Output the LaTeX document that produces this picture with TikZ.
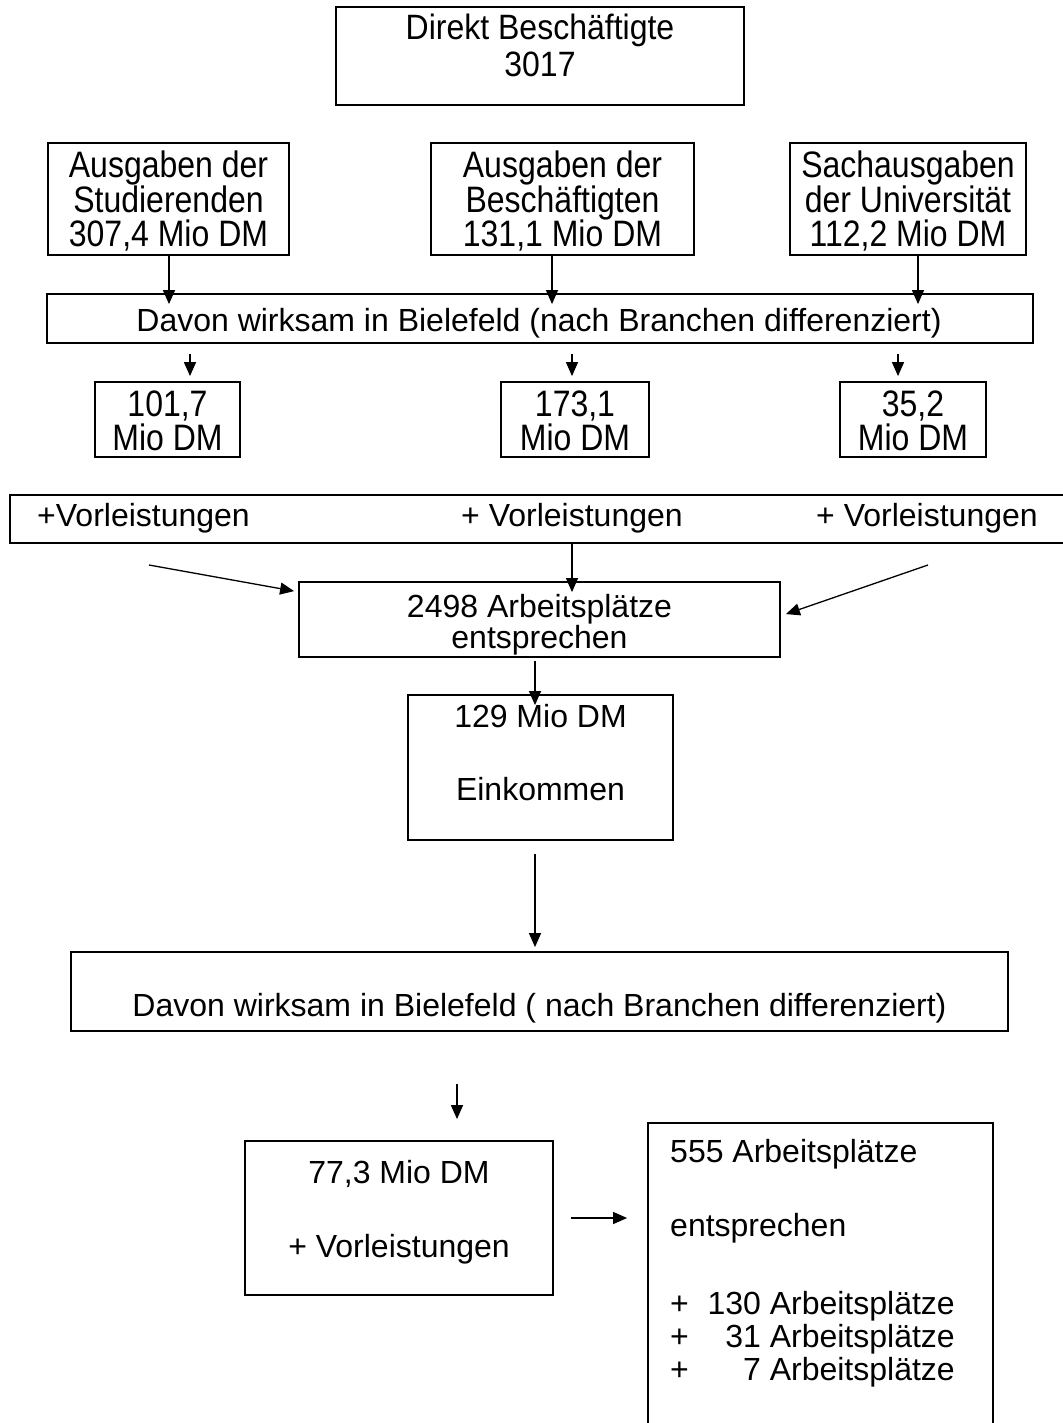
\documentclass[tikz,border=0pt]{standalone}
\usepackage{fontspec}
\usepackage{graphicx}
\setmainfont{Liberation Sans}
\usetikzlibrary{arrows.meta,calc}
\newcommand\boxfont{\fontsize{32}{35}\selectfont}
% upper labels are set a little taller than the lower ones
\newcommand\tall[1]{\scalebox{1}[1.15]{#1}}
\newcommand\taller[1]{\scalebox{1}[1.1]{#1}}
\begin{document}
\begin{tikzpicture}[x=1pt,y=-1pt,
  box/.style={draw, line width=1.8pt, rectangle, inner sep=0pt},
  arr/.style={-{Triangle[length=14pt,width=12pt]}, line width=1.3pt},
  lbl/.style={font=\boxfont, anchor=base, inner sep=0pt},
  lbll/.style={font=\boxfont, anchor=base west, inner sep=0pt},
  lblr/.style={font=\boxfont, anchor=base east, inner sep=0pt}]
\useasboundingbox (0,0) rectangle (1062,1423);

% boxes
\node[box, minimum width=408pt, minimum height=98pt] (dir) at (540,56) {};
\node[box, minimum width=241pt, minimum height=112pt] (sA) at (168.5,199) {};
\node[box, minimum width=263pt, minimum height=112pt] (sB) at (562.5,199) {};
\node[box, minimum width=236pt, minimum height=112pt] (sC) at (908,199) {};
\node[box, minimum width=986pt, minimum height=49pt] (dav1) at (540,318.5) {};
\node[box, minimum width=145pt, minimum height=75pt] (m1) at (167.5,419.5) {};
\node[box, minimum width=148pt, minimum height=75pt] (m2) at (575,419.5) {};
\node[box, minimum width=146pt, minimum height=75pt] (m3) at (913,419.5) {};
\node[box, minimum width=1065pt, minimum height=48pt] (vor) at (542.5,519) {};
\node[box, minimum width=481pt, minimum height=75pt] (ap) at (539.5,619.5) {};
\node[box, minimum width=265pt, minimum height=145pt] (ek) at (540.5,767.5) {};
\node[box, minimum width=937pt, minimum height=79pt] (dav2) at (539.5,991.5) {};
\node[box, minimum width=308pt, minimum height=154pt] (mio) at (399,1218) {};
\node[box, minimum width=345pt, minimum height=317pt] (ap2) at (820.5,1281.5) {};

% labels, placed by baseline
\node[lbl] (tdir1) at (540,40) {\taller{Direkt Beschäftigte}};
\node[lbl] (tdir2) at (540,77) {\taller{3017}};
\node[lbl] (tA1) at (168.5,178) {\tall{Ausgaben der}};
\node[lbl] (tA2) at (168.5,213) {\tall{Studierenden}};
\node[lbl] (tA3) at (168.5,247) {\tall{307,4 Mio DM}};
\node[lbl] (tB1) at (562.5,178) {\tall{Ausgaben der}};
\node[lbl] (tB2) at (562.5,213) {\tall{Beschäftigten}};
\node[lbl] (tB3) at (562.5,247) {\tall{131,1 Mio DM}};
\node[lbl] (tC1) at (908,178) {\tall{Sachausgaben}};
\node[lbl] (tC2) at (908,213) {\tall{der Universität}};
\node[lbl] (tC3) at (908,247) {\tall{112,2 Mio DM}};
\node[lbl] (tdav1) at (539,331) {Davon wirksam in Bielefeld (nach Branchen differenziert)};
\node[lbl] (tm1a) at (167.5,416) {\tall{101,7}};
\node[lbl] (tm1b) at (167.5,450) {\tall{Mio DM}};
\node[lbl] (tm2a) at (575,416) {\tall{173,1}};
\node[lbl] (tm2b) at (575,450) {\tall{Mio DM}};
\node[lbl] (tm3a) at (913,416) {\tall{35,2}};
\node[lbl] (tm3b) at (913,450) {\tall{Mio DM}};
\node[lbll] (tv1) at (37,526) {+Vorleistungen};
\node[lbll] (tv2) at (461,526) {+ Vorleistungen};
\node[lbll] (tv3) at (816,526) {+ Vorleistungen};
\node[lbl] (tap1) at (539.5,617) {2498 Arbeitsplätze};
\node[lbl] (tap2) at (539.5,648) {entsprechen};
\node[lbl] (tek1) at (540.5,727) {129 Mio DM};
\node[lbl] (tek2) at (540.5,800) {Einkommen};
\node[lbl] (tdav2) at (539.5,1016) {Davon wirksam in Bielefeld ( nach Branchen differenziert)};
\node[lbl] (tmio1) at (399,1183) {77,3 Mio DM};
\node[lbl] (tmio2) at (399,1257) {+ Vorleistungen};
\node[lbll] (tq1) at (670,1162) {555 Arbeitsplätze};
\node[lbll] (tq2) at (670,1236) {entsprechen};
\node[lbll] (p1) at (670,1314) {+};
\node[lbll] (p2) at (670,1347) {+};
\node[lbll] (p3) at (670,1380) {+};
\node[lblr] (r1) at (955,1314) {130 Arbeitsplätze};
\node[lblr] (r2) at (955,1347) {31 Arbeitsplätze};
\node[lblr] (r3) at (955,1380) {7 Arbeitsplätze};

% free ends of connectors
\coordinate (xa) at (169,0);
\coordinate (xb) at (552,0);
\coordinate (xc) at (918,0);
\coordinate (ya) at (190,0);
\coordinate (yb) at (572,0);
\coordinate (yc) at (898,0);
\coordinate (lft) at (149,565);
\coordinate (rgt) at (928,565);
\coordinate (xm) at (535,0);
\coordinate (xn) at (457,0);

% connectors
\draw[arr] (sA.south -| xa) -- ([yshift=-11pt]dav1.north -| xa);
\draw[arr] (sB.south -| xb) -- ([yshift=-11pt]dav1.north -| xb);
\draw[arr] (sC.south -| xc) -- ([yshift=-11pt]dav1.north -| xc);
\draw[arr] ([yshift=-10pt]dav1.south -| ya) -- ([yshift=5pt]m1.north -| ya);
\draw[arr] ([yshift=-10pt]dav1.south -| yb) -- ([yshift=5pt]m2.north -| yb);
\draw[arr] ([yshift=-10pt]dav1.south -| yc) -- ([yshift=5pt]m3.north -| yc);
\draw[arr] (vor.south -| yb) -- ([yshift=-11pt]ap.north -| yb);
\draw[arr] (lft) -- ($(ap.north west)+(-4,10)$);
\draw[arr] (rgt) -- ($(ap.north east)+(5,33)$);
\draw[arr] ([yshift=-3pt]ap.south -| xm) -- ([yshift=-11pt]ek.north -| xm);
\draw[arr] ([yshift=-13pt]ek.south -| xm) -- ([yshift=4pt]dav2.north -| xm);
\draw[arr] ([yshift=-52pt]dav2.south -| xn) -- ([yshift=21pt]mio.north -| xn);
\draw[arr] ([xshift=17pt]mio.east) -- ([xshift=-20pt]ap2.west |- mio.east);
\end{tikzpicture}
\end{document}
